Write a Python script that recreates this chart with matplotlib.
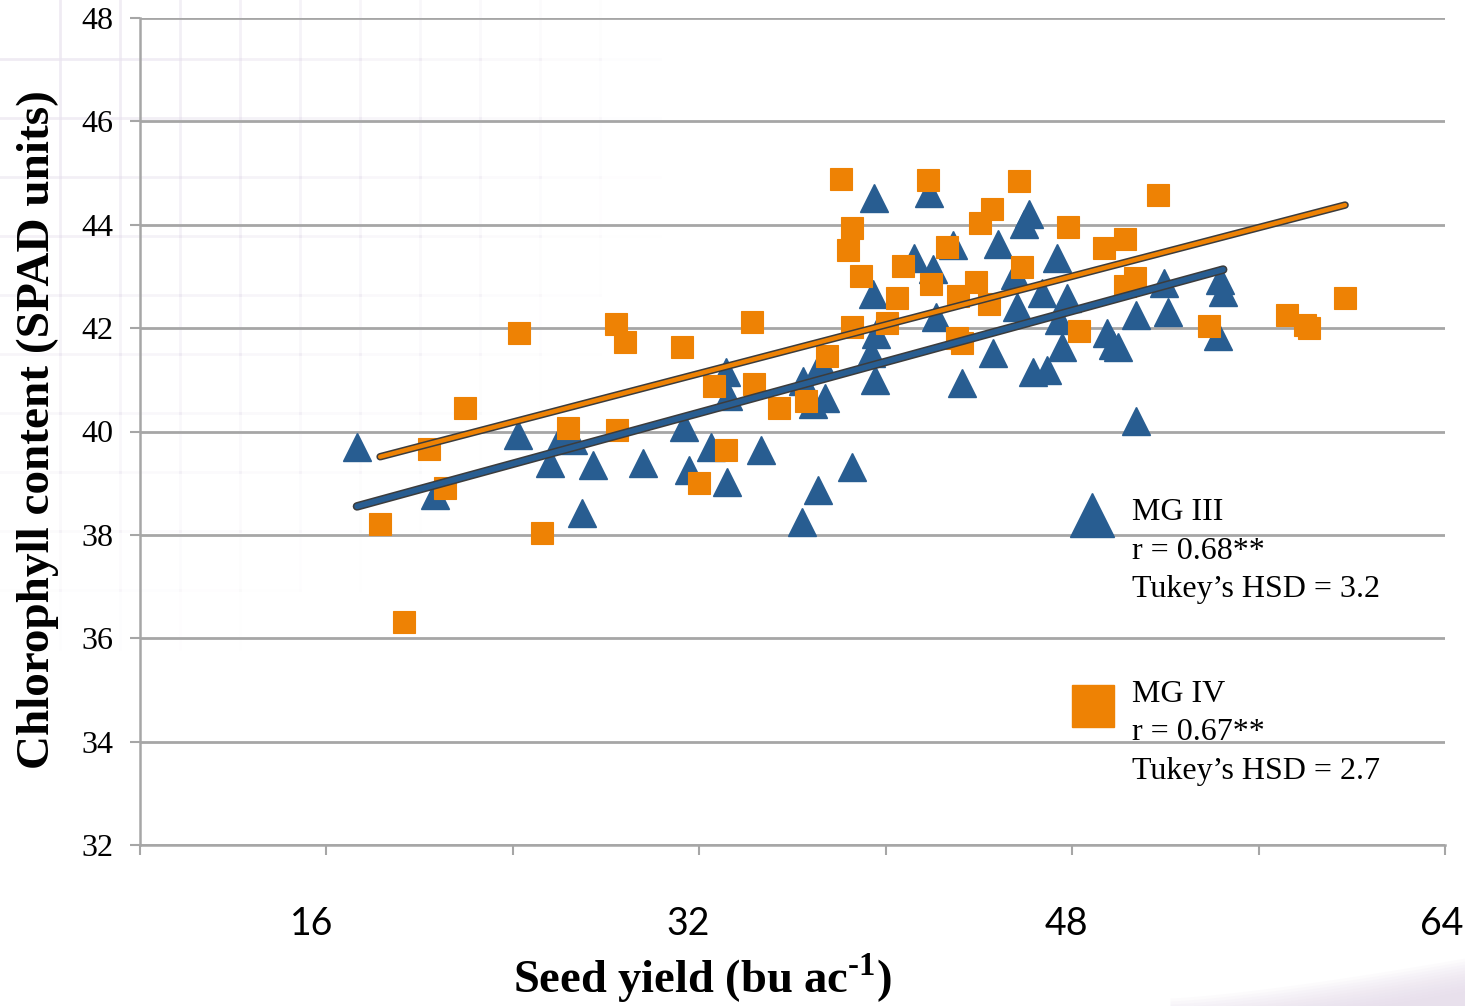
import numpy as np
import matplotlib
matplotlib.use("Agg")
import matplotlib.pyplot as plt
import matplotlib.patheffects as pe
from matplotlib.transforms import blended_transform_factory

# ---------------- data (seed yield in kg/ha, chlorophyll in SPAD units) ----------------
mg3_yield = [1082, 1291, 1514, 1600, 1629, 1661, 1715, 1685, 1849, 1959, 1972, 2031,
             2072, 2077, 2074, 2166, 2278, 2305, 2337, 2326, 2318, 2276, 2410, 2469,
             2466, 2474, 2461, 2471, 2576, 2616, 2627, 2681, 2635, 2705, 2788, 2801,
             2847, 2852, 2884, 2871, 2895, 2933, 2919, 2959, 2986, 2965, 2973, 3094,
             3110, 3123, 3171, 3171, 3246, 3257, 3397, 3405, 3391]
mg3_spad = [39.70, 38.77, 39.93, 39.39, 39.89, 39.84, 39.35, 38.42, 39.39, 40.09, 39.26, 39.70,
            41.15, 40.69, 39.02, 39.64, 40.98, 40.53, 40.65, 41.33, 38.87, 38.25, 39.31, 44.52,
            42.66, 41.89, 41.52, 41.00, 43.36, 44.61, 43.14, 43.61, 42.22, 40.94, 41.52, 43.63,
            43.03, 42.41, 44.21, 44.01, 41.15, 41.19, 42.68, 43.36, 42.58, 42.16, 41.63, 41.91,
            41.67, 41.63, 42.25, 40.20, 42.87, 42.31, 42.93, 42.70, 41.85]

mg4_yield = [1144, 1208, 1275, 1318, 1372, 1517, 1578, 1648, 1777, 1779, 1801, 1954,
             1999, 2040, 2072, 2141, 2147, 2214, 2286, 2343, 2380, 2410, 2399, 2410,
             2434, 2504, 2530, 2547, 2614, 2622, 2665, 2694, 2691, 2705, 2742, 2753,
             2785, 2777, 2858, 2866, 2989, 3019, 3086, 3142, 3142, 3169, 3230, 3367,
             3576, 3625, 3635, 3732]
mg4_spad = [38.21, 36.31, 39.66, 38.91, 40.45, 41.91, 38.04, 40.07, 42.08, 40.03, 41.73, 41.63,
            39.00, 40.88, 39.64, 42.12, 40.92, 40.45, 40.59, 41.46, 44.89, 43.94, 43.51, 42.02,
            43.01, 42.10, 42.58, 43.20, 44.87, 42.85, 43.57, 42.62, 41.81, 41.71, 42.89, 44.03,
            44.30, 42.47, 44.85, 43.18, 43.96, 41.94, 43.55, 43.72, 42.82, 42.97, 44.58, 42.04,
            42.25, 42.06, 42.00, 42.58]

x_ticks_kg = [500, 1000, 1500, 2000, 2500, 3000, 3500, 4000]
y_ticks = [32, 34, 36, 38, 40, 42, 44, 46, 48]
bu_labels = ["16", "32", "48", "64"]
bu_label_pos = [960, 1970, 2985, 3990]

legend_mg3 = ["MG III", "r = 0.68**", "Tukey\u2019s HSD = 3.2"]
legend_mg4 = ["MG IV", "r = 0.67**", "Tukey\u2019s HSD = 2.7"]

# ---------------- style ----------------
BLUE = "#285d91"
ORANGE = "#ee8204"
GRID = "#a6a6a6"
SERIF = "Liberation Serif"

plt.rcParams["mathtext.fontset"] = "custom"
plt.rcParams["mathtext.rm"] = "Liberation Serif:bold"
plt.rcParams["mathtext.bf"] = "Liberation Serif:bold"

W, H = 1465, 1006
fig = plt.figure(figsize=(W / 100, H / 100), dpi=100)
fig.patch.set_facecolor("white")

# faint slide background grid (top-left), fading out
bg = fig.add_axes([0, 0, 1, 1], zorder=0)
bg.set_xlim(0, W)
bg.set_ylim(H, 0)
bg.axis("off")
for i in range(1, 12):
    for j in range(0, 11):
        # short segments with fading alpha
        a = max(0.0, 1 - np.hypot(i / 11, j / 11)) * 0.9
        bg.plot([60 * i, 60 * i], [59 * j, 59 * (j + 1)], color="#ece7f1", lw=2.0, alpha=a)
for j in range(1, 11):
    for i in range(0, 11):
        a = max(0.0, 1 - np.hypot(i / 11, j / 11)) * 0.9
        bg.plot([60 * i, 60 * (i + 1)], [59 * j, 59 * j], color="#ece7f1", lw=2.0, alpha=a)

# purple swoosh bottom right
xs_sw = np.linspace(1170, W, 200)
top = H - 8 - 40 * ((xs_sw - 1170) / (W - 1170)) ** 1.3
for k in range(12):
    bg.fill_between(xs_sw, H, top + k * 3, color="#e4d9ea", alpha=0.10, lw=0)

ax = fig.add_axes([140 / W, 161 / H, 1305 / W, 827 / H])
ax.set_facecolor("none")
ax.set_xlim(500, 4000)
ax.set_ylim(32, 48)

ax.set_yticks(y_ticks)
ax.set_yticklabels([str(v) for v in y_ticks], fontfamily=SERIF, fontsize=23)
ax.set_xticks(x_ticks_kg)
ax.set_xticklabels([])
ax.tick_params(axis="y", direction="out", length=7, width=1.5, color=GRID, pad=12)
ax.tick_params(axis="x", direction="out", length=7, width=1.5, color=GRID)
ax.grid(axis="y", color=GRID, lw=2.0, zorder=0)
ax.set_axisbelow(True)
for s in ["top", "right"]:
    ax.spines[s].set_visible(False)
for s in ["left", "bottom"]:
    ax.spines[s].set_color(GRID)
    ax.spines[s].set_linewidth(1.8)

# scatter points
ax.plot(mg3_yield, mg3_spad, linestyle="none", marker="^", ms=20, color=BLUE,
        mec=BLUE, mew=1, zorder=3)
ax.plot(mg4_yield, mg4_spad, linestyle="none", marker="s", ms=16.5, color=ORANGE,
        mec=ORANGE, mew=0.8, zorder=4)

# linear trendlines
for xs, ys, col, lw in [(mg3_yield, mg3_spad, BLUE, 4.0), (mg4_yield, mg4_spad, ORANGE, 3.2)]:
    k, b = np.polyfit(xs, ys, 1)
    xx = np.array([min(xs), max(xs)])
    ax.plot(xx, k * xx + b, color=col, lw=lw, solid_capstyle="round", zorder=5,
            path_effects=[pe.Stroke(linewidth=lw + 2.2, foreground="#3c3c3c"), pe.Normal()])

# bu/ac labels
tr = blended_transform_factory(ax.transData, ax.transAxes)
for lab, pos in zip(bu_labels, bu_label_pos):
    ax.text(pos, -0.0955, lab, transform=tr, ha="center", va="center",
            fontfamily="Lato", fontsize=27, color="black")

# axis titles
fig.text(702 / W, 1 - 978 / H, r"Seed yield (bu ac$^{\text{-}1}$)", ha="center", va="center",
         fontfamily=SERIF, fontweight="bold", fontsize=33.5)
fig.text(38 / W, 1 - 430 / H, "Chlorophyll content (SPAD units)", ha="center", va="center",
         rotation=90, fontfamily=SERIF, fontweight="bold", fontsize=34)

# legend annotations
fig.add_artist(plt.Line2D([1092 / W], [1 - 515 / H], marker="^", ms=31, color=BLUE, mec=BLUE))
fig.add_artist(plt.Line2D([1093 / W], [1 - 706 / H], marker="s", ms=30, color=ORANGE, mec=ORANGE))
for lines, y0 in [(legend_mg3, 513), (legend_mg4, 694)]:
    for i, t in enumerate(lines):
        fig.text(1132 / W, 1 - (y0 + i * 38.5) / H, t, ha="left", va="center",
                 fontfamily=SERIF, fontsize=23)

fig.savefig("out.png", dpi=100)
